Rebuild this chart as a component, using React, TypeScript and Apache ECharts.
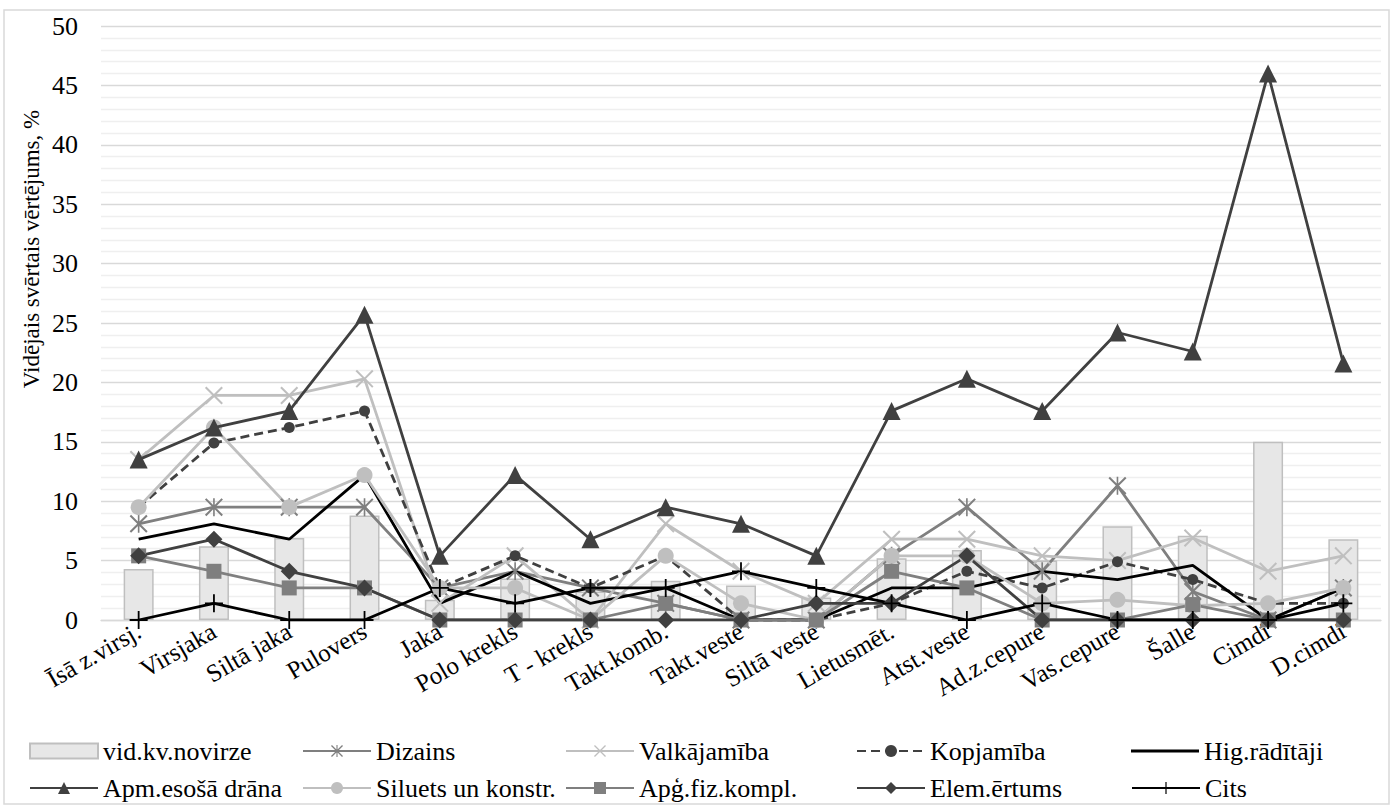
import React, { useEffect, useRef } from "react";
import * as echarts from "echarts";

const categories = [
  "Īsā z.virsj.", "Virsjaka", "Siltā jaka", "Pulovers", "Jaka", "Polo krekls", "T - krekls",
  "Takt.komb.", "Takt.veste", "Siltā veste", "Lietusmēt.", "Atst.veste", "Ad.z.cepure",
  "Vas.cepure", "Šalle", "Cimdi", "D.cimdi",
];

const vidKvNovirze = [4.3, 6.2, 6.9, 8.8, 1.7, 3.5, 2.4, 3.3, 2.9, 1.9, 5.2, 5.9, 5.0, 7.9, 7.1, 15.0, 6.8];
const dizains = [8.1, 9.5, 9.5, 9.5, 2.7, 4.1, 2.7, 1.4, 0, 0, 5.4, 9.5, 4.1, 11.3, 2.4, 0, 2.7];
const valkajamiba = [13.5, 18.9, 18.9, 20.3, 1.4, 5.4, 0, 8.1, 4.1, 1.4, 6.8, 6.8, 5.4, 5.0, 6.9, 4.1, 5.4];
const kopjamiba = [9.5, 14.9, 16.2, 17.6, 2.7, 5.4, 2.7, 5.4, 0, 0, 1.4, 4.1, 2.7, 4.9, 3.4, 1.4, 1.4];
const higRaditaji = [6.8, 8.1, 6.8, 12.2, 1.4, 4.1, 1.4, 2.7, 0, 0, 2.7, 2.7, 4.1, 3.4, 4.6, 0, 2.7];
const apmEsosaDrana = [13.5, 16.2, 17.6, 25.7, 5.4, 12.2, 6.8, 9.5, 8.1, 5.4, 17.6, 20.3, 17.6, 24.2, 22.6, 46.0, 21.6];
const siluets = [9.5, 16.2, 9.5, 12.2, 2.7, 2.7, 0, 5.4, 1.4, 0, 5.4, 5.4, 1.4, 1.7, 1.2, 1.4, 2.7];
const apgFizKompl = [5.4, 4.1, 2.7, 2.7, 0, 0, 0, 1.4, 0, 0, 4.1, 2.7, 0, 0, 1.3, 0, 0];
const elemErtums = [5.4, 6.8, 4.1, 2.7, 0, 0, 0, 0, 0, 1.4, 1.4, 5.4, 0, 0, 0, 0, 0];
const cits = [0, 1.4, 0, 0, 2.7, 1.4, 2.7, 2.7, 4.1, 2.7, 1.4, 0, 1.4, 0, 0, 0, 1.4];

const yTicks = [0, 5, 10, 15, 20, 25, 30, 35, 40, 45, 50];

const FONT = "Liberation Serif";

const PLUS = "path://M9,0H11V9H20V11H11V20H9V11H0V9H9Z";
const XM = "M0,1.6L1.6,0L10,8.4L18.4,0L20,1.6L11.6,10L20,18.4L18.4,20L10,11.6L1.6,20L0,18.4L8.4,10Z";
const XMARK = "path://" + XM;
const ASTER = "path://" + XM + "M9.1,0H10.9V20H9.1Z";
const LINE_ICON = "path://M0,0H68V2.8H0Z";

const DARK = "#404040";
const MID = "#7f7f7f";
const LIGHT = "#bfbfbf";

function lineSeries(name: string, data: number[], color: string, symbol: string, symbolSize: number, extra: any = {}) {
  return {
    name,
    type: "line",
    data,
    symbol,
    symbolSize,
    showSymbol: symbol !== "none",
    lineStyle: { color, width: 2.8, ...(extra.lineStyle || {}) },
    itemStyle: { color },
    emphasis: { disabled: true },
    z: extra.z || 3,
  };
}

function legendAt(name: string, left: number, top: number, icon?: string) {
  return {
    data: [icon ? { name, icon } : name],
    left,
    top,
    itemWidth: 68,
    itemHeight: 15,
    selectedMode: false,
    textStyle: { fontFamily: FONT, fontSize: 26, color: "#000" },
  };
}

export default function App() {
  const ref = useRef<HTMLDivElement>(null);

  useEffect(() => {
    if (!ref.current) return;
    const chart = echarts.init(ref.current, null, { renderer: "svg" });
    const col = [24, 297, 560, 851, 1126];
    const row1 = 733;
    const row2 = 770;
    chart.setOption({
      animation: false,
      backgroundColor: "#fff",
      textStyle: { fontFamily: FONT },
      grid: { left: 101, right: 11, top: 26, bottom: 187, containLabel: false },
      xAxis: {
        type: "category",
        data: categories,
        boundaryGap: true,
        axisLine: { show: true, lineStyle: { color: "#d9d9d9", width: 1.3 } },
        axisTick: { show: false },
        axisLabel: {
          interval: 0,
          rotate: 30,
          margin: 9,
          fontFamily: FONT,
          fontSize: 25,
          color: "#000",
        },
      },
      yAxis: {
        type: "value",
        min: yTicks[0],
        max: yTicks[yTicks.length - 1],
        interval: 5,
        axisLine: { show: false },
        axisTick: { show: false },
        axisLabel: { fontFamily: FONT, fontSize: 26, color: "#000", margin: 23 },
        splitLine: { show: true, lineStyle: { color: "#d9d9d9", width: 1.3 } },
        minorTick: { show: false, splitNumber: 5 },
        minorSplitLine: { show: true, lineStyle: { color: "#efefef", width: 1.3 } },
      },
      legend: [
        legendAt("vid.kv.novirze", col[0], row1, "rect"),
        legendAt("Dizains", col[1], row1),
        legendAt("Valkājamība", col[2], row1),
        legendAt("Kopjamība", col[3], row1),
        legendAt("Hig.rādītāji", col[4], row1, LINE_ICON),
        legendAt("Apm.esošā drāna", col[0], row2),
        legendAt("Siluets un konstr.", col[1], row2),
        legendAt("Apģ.fiz.kompl.", col[2], row2),
        legendAt("Elem.ērtums", col[3], row2),
        legendAt("Cits", col[4], row2),
      ],
      graphic: [
        {
          type: "rect",
          shape: { x: 4, y: 10, width: 1385, height: 794 },
          style: { fill: "none", stroke: "#d9d9d9", lineWidth: 1.5 },
          silent: true,
          z: -10,
        },
        {
          type: "text",
          x: 31,
          y: 249,
          rotation: Math.PI / 2,
          style: {
            text: "Vidējais svērtais vērtējums, %",
            font: `23px ${FONT}`,
            fill: "#000",
            align: "center",
            verticalAlign: "middle",
          },
        },
      ],
      series: [
        {
          name: "vid.kv.novirze",
          type: "bar",
          data: vidKvNovirze,
          barWidth: 30,
          itemStyle: { color: "#e7e7e7", borderColor: LIGHT, borderWidth: 1.5 },
          emphasis: { disabled: true },
          z: 1,
        },
        lineSeries("Dizains", dizains, MID, ASTER, 18),
        lineSeries("Valkājamība", valkajamiba, LIGHT, XMARK, 18),
        lineSeries("Kopjamība", kopjamiba, DARK, "circle", 11, { lineStyle: { type: [9, 5] } }),
        lineSeries("Hig.rādītāji", higRaditaji, "#000", "none", 1),
        lineSeries("Apm.esošā drāna", apmEsosaDrana, DARK, "triangle", 18, { z: 4 }),
        lineSeries("Siluets un konstr.", siluets, LIGHT, "circle", 16),
        lineSeries("Apģ.fiz.kompl.", apgFizKompl, MID, "rect", 15),
        lineSeries("Elem.ērtums", elemErtums, DARK, "diamond", 17),
        lineSeries("Cits", cits, "#000", PLUS, 18),
      ],
    });
    return () => chart.dispose();
  }, []);

  return (
    <div
      ref={ref}
      style={{ position: "fixed", left: 0, top: 0, width: 1392, height: 807, background: "#fff" }}
    />
  );
}
